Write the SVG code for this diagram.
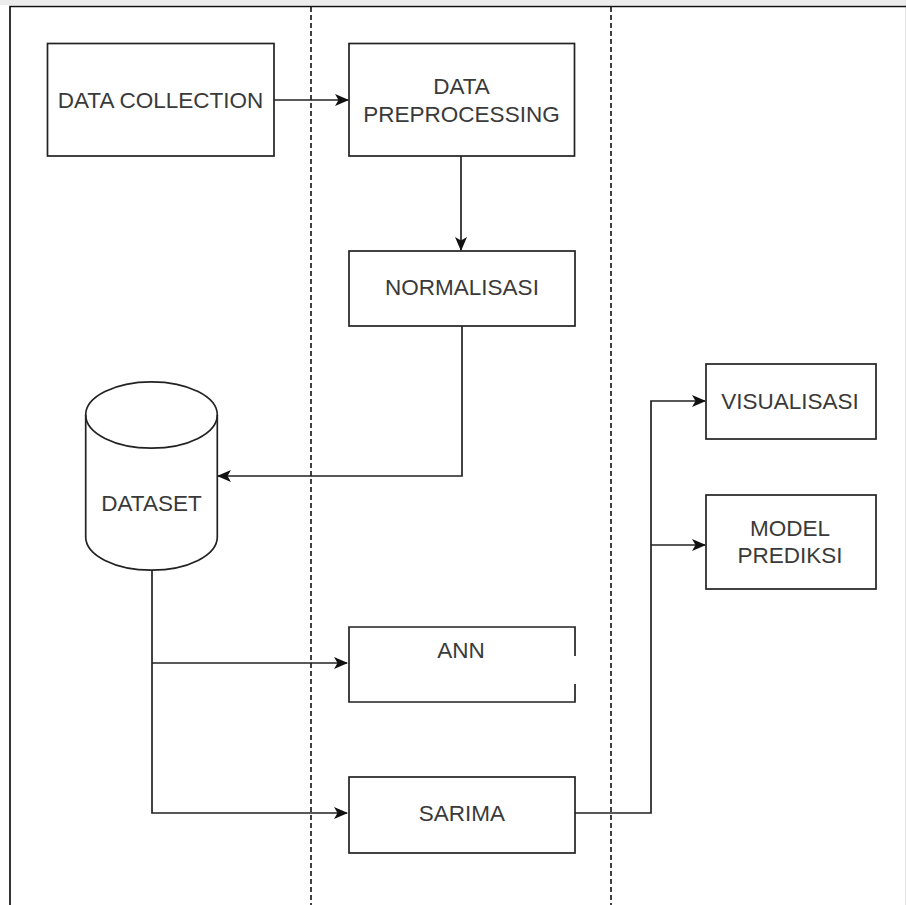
<svg xmlns="http://www.w3.org/2000/svg" width="906" height="905" viewBox="0 0 906 905">
<defs>
<style>
.box{fill:#fff;stroke:#222;stroke-width:1.7}
.lbl{font-family:"Liberation Sans",Arial,sans-serif;font-size:22.5px;fill:#3a3a3a;text-anchor:middle}
.conn{fill:none;stroke:#222;stroke-width:1.7}
.lane{fill:none;stroke:#111;stroke-width:1.6;stroke-dasharray:5 3}
</style>
<marker id="arr" viewBox="0 0 14 12" refX="13" refY="6" markerWidth="14" markerHeight="12" markerUnits="userSpaceOnUse" orient="auto">
<path d="M0,0 L14,6 L0,12 L3.5,6 Z" fill="#111"/>
</marker>
</defs>
<rect x="0" y="0" width="906" height="905" fill="#fff"/>
<rect x="0" y="0" width="906" height="5" fill="#ececec"/>
<rect x="905" y="0" width="1" height="905" fill="#e4e4e4"/>
<g id="frame">
<path d="M10,905 L10,6.5 L906,6.5" fill="none" stroke="#111" stroke-width="1.7"/>
<line class="lane" x1="311" y1="7" x2="311" y2="905"/>
<line class="lane" x1="611" y1="7" x2="611" y2="905"/>
</g>
<g id="connectors">
<path class="conn" d="M274,100 L348,100" marker-end="url(#arr)"/>
<path class="conn" d="M461,156 L461,250" marker-end="url(#arr)"/>
<path class="conn" d="M462,326 L462,476 L218,476" marker-end="url(#arr)"/>
<path class="conn" d="M152,570 L152,813 L347,813" marker-end="url(#arr)"/>
<path class="conn" d="M152,663 L347,663" marker-end="url(#arr)"/>
<path class="conn" d="M575,813 L651,813 L651,401 L705,401" marker-end="url(#arr)"/>
<path class="conn" d="M651,545 L705,545" marker-end="url(#arr)"/>
</g>
<g id="data-collection">
<rect class="box" x="47.5" y="43.5" width="226.5" height="112.5"/>
<text class="lbl" x="160.5" y="108">DATA COLLECTION</text>
</g>
<g id="data-preprocessing">
<rect class="box" x="349" y="43.5" width="225.5" height="112.5"/>
<text class="lbl" x="461.5" y="94">DATA</text>
<text class="lbl" x="461.5" y="122">PREPROCESSING</text>
</g>
<g id="normalisasi">
<rect class="box" x="349" y="251" width="226" height="75"/>
<text class="lbl" x="462" y="295">NORMALISASI</text>
</g>
<g id="dataset">
<path class="box" d="M85.7,415 A65.65,33 0 0 1 217.3,415 L217.3,537 A65.65,33 0 0 1 85.7,537 Z"/>
<path d="M85.7,415 A65.65,33 0 0 0 217.3,415" fill="none" stroke="#222" stroke-width="1.7"/>
<text class="lbl" x="151.5" y="511">DATASET</text>
</g>
<g id="ann">
<rect x="349" y="627" width="226" height="75" fill="#fff"/>
<path d="M575,656 L575,627 L349,627 L349,702 L575,702 L575,684" fill="none" stroke="#222" stroke-width="1.7"/>
<text class="lbl" x="461" y="658">ANN</text>
</g>
<g id="sarima">
<rect class="box" x="349" y="777" width="226" height="76"/>
<text class="lbl" x="462" y="821">SARIMA</text>
</g>
<g id="visualisasi">
<rect class="box" x="706" y="364" width="170" height="75"/>
<text class="lbl" x="790" y="409">VISUALISASI</text>
</g>
<g id="model-prediksi">
<rect class="box" x="706" y="495" width="170" height="94"/>
<text class="lbl" x="790" y="536">MODEL</text>
<text class="lbl" x="790" y="563">PREDIKSI</text>
</g>
</svg>
